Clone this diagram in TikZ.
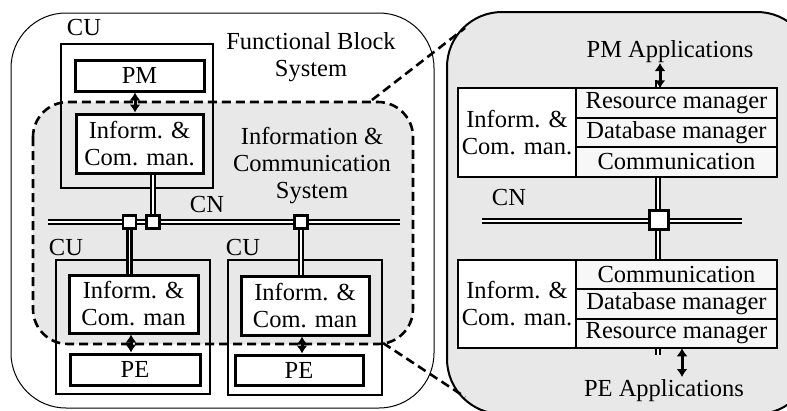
\documentclass[tikz,border=0pt]{standalone}
\usepackage{fontspec}
\setmainfont{Liberation Serif}
\usetikzlibrary{positioning,arrows.meta}
\definecolor{panelgray}{HTML}{E8E8E8}
\definecolor{rowgray}{HTML}{F7F7F7}
\tikzset{
  txt/.style={font=\fontsize{24.5}{27}\selectfont, align=center, inner sep=0pt},
  cubox/.style={draw, line width=1.4pt, inner sep=0pt},
  unit/.style={draw, line width=3pt, fill=white, inner sep=0pt, txt},
  rowbox/.style={draw, line width=2pt, fill=rowgray, minimum width=201pt, minimum height=29.5pt, outer sep=0pt, txt},
  junction/.style={draw, line width=2.2pt, fill=white, minimum size=13pt, inner sep=0pt},
  link/.style={double, line width=2.4pt, double distance=1.8pt},
  biarrow/.style={{Latex[length=8pt,width=11pt]}-{Latex[length=8pt,width=11pt]}, line width=3pt},
  zoomline/.style={line width=2.6pt, dash pattern=on 9pt off 5pt}
}
\begin{document}
\begin{tikzpicture}[x=1pt, y=-1pt]
  \useasboundingbox (0,0) rectangle (787,410);
  \clip (0,0) rectangle (787,410);
  \draw[line width=1pt, rounded corners=55pt] (11,13) rectangle (434,408);
  \draw[line width=2pt, fill=panelgray, rounded corners=55pt] (447,12) rectangle (812,414);
  \draw[zoomline, fill=panelgray, rounded corners=35pt] (33,102) rectangle (413,344);
  \coordinate (zTopL) at (372,100);
  \coordinate (zTopR) at (465,28);
  \coordinate (zBotL) at (383,343);
  \coordinate (zBotR) at (465,397);
  \draw[zoomline] (zTopL) -- (zTopR);
  \draw[zoomline] (zBotL) -- (zBotR);

  \node[txt] (fbs) at (311,57) {Functional Block\\System};
  \node[txt] (ics) at (312,166) {Information \&\\Communication\\System};

  \node[cubox, minimum width=152pt, minimum height=144pt] (cu1) at (137,116) {};
  \node[txt] (cu1tag) at (84,28) {CU};
  \node[unit, minimum width=129pt, minimum height=31pt] (pm) at (139.5,75.5) {PM};
  \node[unit, minimum width=127pt, minimum height=59pt] (im1) at (139.5,143.5) {Inform. \&\\Com. man.};
  \draw[biarrow] ([xshift=-4.5pt]pm.south) -- ([xshift=-4.5pt]pm.south |- im1.north);

  \coordinate (cnA) at (48,222);
  \coordinate (cnB) at (400,222);
  \draw[link] (cnA) -- (cnB);
  \node[txt] (cntag) at (207,205) {CN};
  \node[junction] (j1) at (129.5,222) {};
  \node[junction] (j2) at (153,222) {};
  \node[junction] (j3) at (301,222) {};

  \node[cubox, minimum width=154pt, minimum height=134pt] (cu2) at (133,327) {};
  \node[txt] (cu2tag) at (66,248) {CU};
  \node[unit, minimum width=129pt, minimum height=58pt] (im2) at (133.5,304) {Inform. \&\\Com. man};
  \node[unit, minimum width=130pt, minimum height=31pt] (pe2) at (135,369.5) {PE};
  \draw[biarrow] ([xshift=-2.5pt]im2.south) -- ([xshift=-2.5pt]im2.south |- pe2.north);

  \node[cubox, minimum width=154pt, minimum height=135pt] (cu3) at (305,327.5) {};
  \node[txt] (cu3tag) at (243,248) {CU};
  \node[unit, minimum width=128pt, minimum height=59pt] (im3) at (305,305.5) {Inform. \&\\Com. man};
  \node[unit, minimum width=128pt, minimum height=30pt] (pe3) at (299,370) {PE};
  \draw[biarrow] ([xshift=-3pt]im3.south) -- ([xshift=-3pt]im3.south |- pe3.north);

  \draw[link] (j2.north) -- (j2 |- im1.south);
  \draw[link] (j1.south) -- (j1 |- im2.north);
  \draw[link] (j3.south) -- (j3 |- im3.north);

  \coordinate (vTop) at (658,80);
  \coordinate (vBot) at (658,355);
  \draw[link] (vTop) -- (vBot);
  \coordinate (cnC) at (482,221);
  \coordinate (cnD) at (742,221);
  \draw[link] (cnC) -- (cnD);
  \node[txt] (cnRtag) at (509,198) {CN};
  \node[junction, minimum size=19pt] (jR) at (659,220) {};

  \node[unit, line width=2pt, minimum width=118pt, minimum height=89pt] (imT) at (517,132.5) {Inform. \&\\Com. man.};
  \node[rowbox] (dbT) at (676.5,132.5) {Database manager};
  \node[rowbox, above=0pt of dbT] (resT) {Resource manager};
  \node[rowbox, below=0pt of dbT] (comT) {Communication};

  \node[unit, line width=2pt, minimum width=118pt, minimum height=88pt] (imB) at (517,304) {Inform. \&\\Com. man.};
  \node[rowbox] (dbB) at (676.5,304) {Database manager};
  \node[rowbox, above=0pt of dbB] (comB) {Communication};
  \node[rowbox, below=0pt of dbB] (resB) {Resource manager};

  \node[txt] (pmapp) at (670,52) {PM Applications};
  \node[txt] (peapp) at (664,391) {PE Applications};
  \coordinate (pmTip) at (660,63);
  \coordinate (peTip) at (682,377);
  \draw[biarrow] (pmTip) -- (pmTip |- resT.north);
  \draw[biarrow] (resB.south -| peTip) -- (peTip);
\end{tikzpicture}
\end{document}
